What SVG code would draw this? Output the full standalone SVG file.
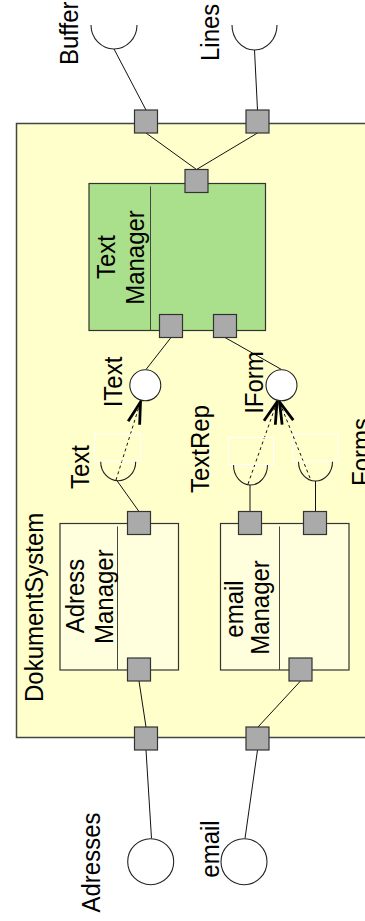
<svg xmlns="http://www.w3.org/2000/svg" width="365" height="921" viewBox="0 0 365 921">
  <style>
    .lbl { font-family: "Liberation Sans", Arial, sans-serif; font-size: 24px; fill: #000; }
    .mid { text-anchor: middle; }
    .frame { fill: #ffffcc; stroke: #444; stroke-width: 1.5; }
    .tm { fill: #aadf8b; stroke: #333; stroke-width: 1.2; }
    .comp { fill: #ffffdd; stroke: #333; stroke-width: 1.2; }
    .div { stroke: #444; stroke-width: 1; fill: none; }
    .port { fill: #aaaaaa; stroke: #333; stroke-width: 1.2; }
    .iface { fill: #fff; stroke: #222; stroke-width: 1.1; }
    .cup { fill: none; stroke: #222; stroke-width: 1.1; }
    .ghost { fill: none; stroke: #fff; stroke-width: 1; }
    .wire { stroke: #111; stroke-width: 1; fill: none; }
    .dep { stroke: #111; stroke-width: 1; stroke-dasharray: 3 3; fill: none; marker-end: url(#open); }
  </style>
  <defs>
    <marker id="open" markerUnits="userSpaceOnUse" markerWidth="30" markerHeight="20" viewBox="-24 -10 30 20" refX="0" refY="0" orient="auto">
      <path d="M -22,-6 L 0,0 L -22,6" fill="none" stroke="#000" stroke-width="2.8" stroke-linejoin="miter"/>
    </marker>
  </defs>

  <!-- enclosing subsystem -->
  <g id="DokumentSystem">
    <rect class="frame" x="16.5" y="123.5" width="360" height="614"/>
    <text class="lbl" transform="translate(43,702) rotate(-90) scale(1,1.1)">DokumentSystem</text>
  </g>

  <!-- connectors -->
  <g id="connectors">
    <line class="wire" x1="114" y1="49" x2="146" y2="110"/>
    <line class="wire" x1="254.5" y1="50" x2="257.5" y2="110"/>
    <line class="wire" x1="146" y1="133" x2="196.5" y2="169.5"/>
    <line class="wire" x1="257.5" y1="133" x2="196.5" y2="169.5"/>
    <line class="wire" x1="171" y1="337.5" x2="146" y2="369.5"/>
    <line class="wire" x1="225" y1="337.5" x2="281.5" y2="369.5"/>
    <line class="wire" x1="117" y1="480.7" x2="139" y2="511.5"/>
    <line class="wire" x1="250" y1="485" x2="250" y2="511.5"/>
    <line class="wire" x1="315.5" y1="481" x2="315.5" y2="511.5"/>
    <line class="wire" x1="139" y1="681" x2="146" y2="727"/>
    <line class="wire" x1="300.5" y1="681" x2="258" y2="727"/>
    <line class="wire" x1="146" y1="750" x2="151.5" y2="838.5"/>
    <line class="wire" x1="257.5" y1="750" x2="245" y2="838.5"/>
    <line class="dep" x1="116" y1="480" x2="140.5" y2="402"/>
    <line class="dep" x1="248" y1="484" x2="277" y2="402"/>
    <line class="dep" x1="310" y1="478" x2="279.5" y2="402"/>
  </g>

  <!-- external sockets -->
  <g id="Buffer">
    <path class="cup" d="M 91,25 A 23 24 0 0 0 137,25"/>
    <text class="lbl" transform="translate(78,65) rotate(-90) scale(1,1.1)">Buffer</text>
  </g>
  <g id="Lines">
    <path class="cup" d="M 232,25 A 22.5 25 0 0 0 277,25"/>
    <text class="lbl" transform="translate(219,61) rotate(-90) scale(1,1.1)">Lines</text>
  </g>

  <!-- Text Manager -->
  <g id="TextManager">
    <rect class="tm" x="89" y="183.5" width="176.5" height="147"/>
    <line class="div" x1="150.5" y1="186.5" x2="150.5" y2="330.5"/>
    <text class="lbl mid" transform="translate(114.5,257) rotate(-90) scale(1,1.1)">Text</text>
    <text class="lbl mid" transform="translate(143.5,257.5) rotate(-90) scale(1,1.1)">Manager</text>
  </g>

  <!-- provided interfaces -->
  <g id="IText">
    <circle class="iface" cx="145.3" cy="385.3" r="15.5"/>
    <text class="lbl mid" transform="translate(121.5,382) rotate(-90) scale(1,1.1)">IText</text>
  </g>
  <g id="IForm">
    <circle class="iface" cx="281.5" cy="385.3" r="15.5"/>
    <text class="lbl mid" transform="translate(263,382.5) rotate(-90) scale(1,1.1)">IForm</text>
  </g>

  <!-- required interfaces -->
  <g id="Text">
    <rect class="ghost" x="94.5" y="434" width="46" height="27"/>
    <path class="cup" d="M 100.7,461.7 A 17.5 19 0 0 0 135.7,461.7"/>
    <text class="lbl mid" transform="translate(89,467) rotate(-90) scale(1,1.1)">Text</text>
  </g>
  <g id="TextRep">
    <rect class="ghost" x="228.5" y="437.5" width="45" height="27"/>
    <path class="cup" d="M 233.5,465 A 17 20 0 0 0 267.5,465"/>
    <text class="lbl mid" transform="translate(208.5,449) rotate(-90) scale(1,1.1)">TextRep</text>
  </g>
  <g id="Forms">
    <rect class="ghost" x="292.5" y="434" width="45.5" height="27"/>
    <path class="cup" d="M 298.5,461.7 A 17 19.3 0 0 0 332.5,461.7"/>
    <text class="lbl" transform="translate(370,486) rotate(-90) scale(1,1.1)">Forms</text>
  </g>

  <!-- Adress Manager -->
  <g id="AdressManager">
    <rect class="comp" x="60" y="523.5" width="118.5" height="146.5"/>
    <line class="div" x1="117.5" y1="526.5" x2="117.5" y2="670"/>
    <text class="lbl mid" transform="translate(84,596) rotate(-90) scale(1,1.1)">Adress</text>
    <text class="lbl mid" transform="translate(112.5,596.7) rotate(-90) scale(1,1.1)">Manager</text>
  </g>

  <!-- email Manager -->
  <g id="emailManager">
    <rect class="comp" x="220.5" y="523.5" width="128.5" height="146.5"/>
    <line class="div" x1="279.5" y1="526.5" x2="279.5" y2="670"/>
    <text class="lbl mid" transform="translate(243,609) rotate(-90) scale(1,1.1)">email</text>
    <text class="lbl mid" transform="translate(268.5,607.5) rotate(-90) scale(1,1.1)">Manager</text>
  </g>

  <!-- ports -->
  <g id="ports">
    <rect class="port" x="134.5" y="110" width="23" height="23"/>
    <rect class="port" x="246" y="110" width="23" height="23"/>
    <rect class="port" x="185" y="169.5" width="23" height="23"/>
    <rect class="port" x="159.5" y="314.5" width="23" height="23"/>
    <rect class="port" x="213.5" y="314.5" width="23" height="23"/>
    <rect class="port" x="127.5" y="511.5" width="23" height="23"/>
    <rect class="port" x="127.5" y="658" width="23" height="23"/>
    <rect class="port" x="238.5" y="511.5" width="23" height="23"/>
    <rect class="port" x="303.5" y="511.5" width="23" height="23"/>
    <rect class="port" x="289" y="658" width="23" height="23"/>
    <rect class="port" x="134.5" y="727" width="23" height="23"/>
    <rect class="port" x="246" y="727" width="23" height="23"/>
  </g>

  <!-- external provided interfaces -->
  <g id="Adresses">
    <circle class="iface" cx="150.7" cy="861.7" r="23"/>
    <text class="lbl mid" transform="translate(100,862.5) rotate(-90) scale(1,1.1)">Adresses</text>
  </g>
  <g id="email">
    <circle class="iface" cx="244" cy="861.7" r="23"/>
    <text class="lbl mid" transform="translate(219,849) rotate(-90) scale(1,1.1)">email</text>
  </g>
</svg>
